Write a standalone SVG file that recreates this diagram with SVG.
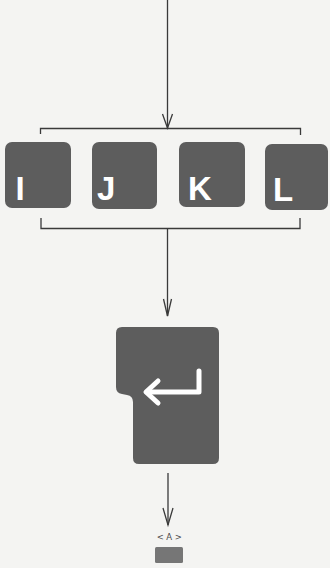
<svg xmlns="http://www.w3.org/2000/svg" width="330" height="568" viewBox="0 0 330 568">
<style>
.bg{fill:#f4f4f2}
.key{fill:#5d5d5d}
.lbl{fill:#ffffff;font-family:"Liberation Sans",Arial,sans-serif;font-weight:bold;font-size:33px}
.ln{fill:none;stroke:#3a3a3a;stroke-width:1.3}
.head{fill:none;stroke:#3a3a3a;stroke-width:1.3;stroke-linejoin:miter}
.sym{fill:none;stroke:#ffffff;stroke-width:5;stroke-linecap:round;stroke-linejoin:round}
.small{fill:#4a4a4a;font-family:"DejaVu Sans",sans-serif;font-size:8.5px;letter-spacing:2.5px}
</style>
<rect class="bg" x="0" y="0" width="330" height="568"/>
<g id="connectors">
  <line class="ln" x1="167.5" y1="0" x2="167.5" y2="128"/>
  <polyline class="head" points="162.5,114 167.5,128 172.5,114"/>
  <polyline class="ln" points="40.5,134 40.5,128.5 300.5,128.5 300.5,135"/>
  <polyline class="ln" points="41,218 41,228.5 300,228.5 300,218"/>
  <line class="ln" x1="167.5" y1="228.5" x2="167.5" y2="316"/>
  <polyline class="head" points="163.5,299 167.5,316 171.5,299"/>
  <line class="ln" x1="168" y1="473" x2="168" y2="525"/>
  <polyline class="head" points="163,508 168,525 173,508"/>
</g>
<g id="key-I">
  <rect class="key" x="5" y="142" width="66" height="66" rx="7"/>
  <text class="lbl" x="15.5" y="200">I</text>
</g>
<g id="key-J">
  <rect class="key" x="92" y="142" width="65" height="67" rx="7"/>
  <text class="lbl" x="97" y="200">J</text>
</g>
<g id="key-K">
  <rect class="key" x="179" y="142" width="66" height="65" rx="7"/>
  <text class="lbl" x="188" y="200">K</text>
</g>
<g id="key-L">
  <rect class="key" x="265" y="144" width="63" height="66" rx="7"/>
  <text class="lbl" x="273" y="201">L</text>
</g>
<g id="key-enter">
  <path class="key" d="M122,327 H213 Q219,327 219,333 V458 Q219,464 213,464 H139 Q133,464 133,458 V402 Q133,396 127,395 L122,394 Q116,393 116,387 V333 Q116,327 122,327 Z"/>
  <polyline class="sym" points="199,371 199,392 147,392"/>
  <polyline class="sym" points="158,381 146,392 158,403"/>
</g>
<g id="display">
  <text class="small" x="170.5" y="540" text-anchor="middle">&lt;A&gt;</text>
  <rect x="155" y="547" width="28" height="16" rx="1.5" fill="#767676"/>
</g>
</svg>
